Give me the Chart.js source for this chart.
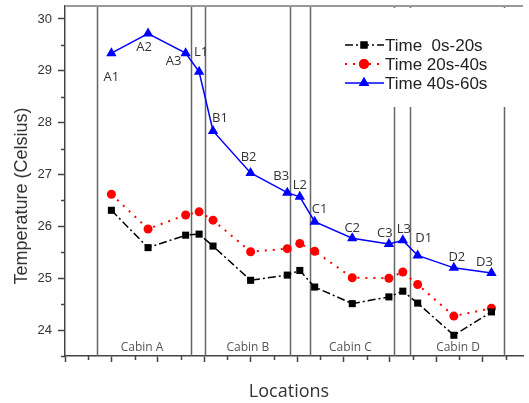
<!DOCTYPE html>
<html>
<head>
<meta charset="utf-8">
<script src="https://cdn.jsdelivr.net/npm/chart.js@4"></script>
<style>
  html, body { margin: 0; padding: 0; background: #fff; }
  #wrap { width: 529px; height: 403px; position: relative; }
</style>
</head>
<body>
<div id="wrap"><canvas id="myChart"></canvas></div>
<script>
// data
const locations = ["A1", "A2", "A3", "L1", "B1", "B2", "B3", "L2", "C1", "C2", "C3", "L3", "D1", "D2", "D3"];
const xPositions = [1.0, 1.79, 2.6, 2.89, 3.19, 4.0, 4.79, 5.06, 5.38, 6.19, 6.98, 7.28, 7.6, 8.38, 9.19];
const time0to20 = [26.31, 25.59, 25.83, 25.85, 25.62, 24.96, 25.06, 25.15, 24.83, 24.51, 24.64, 24.75, 24.52, 23.90, 24.35];
const time20to40 = [26.62, 25.95, 26.22, 26.28, 26.12, 25.51, 25.57, 25.67, 25.52, 25.01, 25.00, 25.12, 24.88, 24.27, 24.42];
const time40to60 = [29.34, 29.72, 29.34, 28.98, 27.84, 27.03, 26.65, 26.57, 26.09, 25.77, 25.66, 25.73, 25.44, 25.20, 25.10];
const seriesNames = ["Time  0s-20s", "Time 20s-40s", "Time 40s-60s"];
const dividers = [0.68, 2.72, 3.02, 4.85, 5.28, 7.1, 7.43, 9.47];
const cabins = ["Cabin A", "Cabin B", "Cabin C", "Cabin D"];
const cabinCenters = [1.66, 3.94, 6.15, 8.47];
const yTicks = [24, 25, 26, 27, 28, 29, 30];
const xTicks = [0, 1, 2, 3, 4, 5, 6, 7, 8, 9];

// label offsets (px) for the blue point names
const labelOffsets = [[0, 24], [-4, 14], [-12, 8], [2, -20], [7, -13], [-2, -16], [-6, -16], [0, -12],
  [5, -12], [0, -10], [-4, -11], [1, -11], [6, -17], [3, -11], [-7, -11]];

const COLOR_BLACK = "#000000";
const COLOR_RED = "#ff0000";
const COLOR_BLUE = "#0000ff";
const AXIS_COLOR = "#444444";

function toPoints(values) {
  return values.map((v, i) => ({ x: xPositions[i], y: v }));
}

const decorPlugin = {
  id: 'decor',
  beforeDatasetsDraw(chart) {
    const ctx = chart.ctx;
    const area = chart.chartArea;
    const xs = chart.scales.x;
    ctx.save();
    // vertical cabin dividers
    ctx.strokeStyle = "#666666";
    ctx.lineWidth = 1.5;
    dividers.forEach((d) => {
      const px = Math.round(xs.getPixelForValue(d)) + 0.5;
      ctx.beginPath();
      ctx.moveTo(px, area.top);
      ctx.lineTo(px, area.bottom);
      ctx.stroke();
    });
    // cabin names
    ctx.fillStyle = "#555555";
    ctx.font = "12px 'Open Sans'";
    ctx.textAlign = "center";
    ctx.textBaseline = "middle";
    cabins.forEach((c, i) => {
      ctx.fillText(c, xs.getPixelForValue(cabinCenters[i]), area.bottom - 8);
    });
    ctx.restore();
  },
  afterDatasetsDraw(chart) {
    const ctx = chart.ctx;
    const area = chart.chartArea;
    const xs = chart.scales.x;
    const ys = chart.scales.y;
    ctx.save();

    // point names for the top series
    ctx.fillStyle = "#333333";
    ctx.font = "13px 'Open Sans'";
    ctx.textAlign = "center";
    ctx.textBaseline = "middle";
    locations.forEach((name, i) => {
      const px = xs.getPixelForValue(xPositions[i]) + labelOffsets[i][0];
      const py = ys.getPixelForValue(time40to60[i]) + labelOffsets[i][1];
      ctx.fillText(name, px, py);
    });

    // legend box (white, hides the dividers behind it)
    ctx.fillStyle = "#ffffff";
    ctx.fillRect(330, area.top + 2, chart.width - 330, 99);
    const rows = [45, 64, 83];
    const styles = [
      { color: COLOR_BLACK, dash: [8, 3, 2, 3], width: 1.5, marker: 'rect' },
      { color: COLOR_RED, dash: [2, 6], width: 2, marker: 'circle' },
      { color: COLOR_BLUE, dash: [], width: 1.5, marker: 'triangle' },
    ];
    styles.forEach((s, i) => {
      const y = rows[i];
      ctx.strokeStyle = s.color;
      ctx.lineWidth = s.width;
      ctx.setLineDash(s.dash);
      ctx.beginPath();
      ctx.moveTo(345, y);
      ctx.lineTo(384, y);
      ctx.stroke();
      ctx.setLineDash([]);
      ctx.fillStyle = s.color;
      Chart.helpers.drawPoint(ctx, { pointStyle: s.marker, radius: s.marker === 'triangle' ? 6 : 5, rotation: 0, borderWidth: 0 }, 364, y);
      ctx.fill();
      ctx.fillStyle = "#222222";
      ctx.font = "17px 'Liberation Sans'";
      ctx.textAlign = "left";
      ctx.textBaseline = "middle";
      ctx.fillText(seriesNames[i], 385, y + 1);
    });

    // top frame line
    ctx.strokeStyle = "#999999";
    ctx.lineWidth = 2;
    ctx.beginPath();
    ctx.moveTo(area.left, area.top);
    ctx.lineTo(area.right, area.top);
    ctx.stroke();

    // minor ticks
    ctx.strokeStyle = AXIS_COLOR;
    ctx.lineWidth = 1.5;
    for (let v = 23.5; v <= 30.01; v += 1) {
      const py = Math.round(ys.getPixelForValue(v)) + 0.5;
      ctx.beginPath();
      ctx.moveTo(area.left - 4, py);
      ctx.lineTo(area.left, py);
      ctx.stroke();
    }
    for (let v = 0.5; v <= 9.6; v += 1) {
      const px = Math.round(xs.getPixelForValue(v)) + 0.5;
      ctx.beginPath();
      ctx.moveTo(px, area.bottom);
      ctx.lineTo(px, area.bottom + 4);
      ctx.stroke();
    }

    // axis titles
    ctx.fillStyle = "#333333";
    ctx.font = "18px 'Liberation Sans'";
    ctx.textAlign = "center";
    ctx.textBaseline = "middle";
    ctx.save();
    ctx.translate(22, 196);
    ctx.rotate(-Math.PI / 2);
    ctx.fillText("Temperature (Celsius)", 0, 0);
    ctx.restore();
    ctx.font = "18px 'Open Sans'";
    ctx.fillText("Locations", 289, 392);

    ctx.restore();
  }
};

const ctx = document.getElementById("myChart").getContext("2d");
const chart = new Chart(ctx, {
  type: 'scatter',
  data: {
    datasets: [
      {
        label: seriesNames[0],
        data: toPoints(time0to20),
        showLine: true,
        borderColor: COLOR_BLACK,
        backgroundColor: COLOR_BLACK,
        borderWidth: 1.5,
        borderDash: [8, 3, 2, 3],
        pointStyle: 'rect',
        pointRadius: 5,
        pointBorderWidth: 0,
      },
      {
        label: seriesNames[1],
        data: toPoints(time20to40),
        showLine: true,
        borderColor: COLOR_RED,
        backgroundColor: COLOR_RED,
        borderWidth: 2,
        borderDash: [2, 6],
        pointStyle: 'circle',
        pointRadius: 4.5,
        pointBorderWidth: 0,
      },
      {
        label: seriesNames[2],
        data: toPoints(time40to60),
        showLine: true,
        borderColor: COLOR_BLUE,
        backgroundColor: COLOR_BLUE,
        borderWidth: 1.5,
        pointStyle: 'triangle',
        pointRadius: 6,
        pointBorderWidth: 0,
      },
    ]
  },
  options: {
    responsive: true,
    maintainAspectRatio: false,
    animation: false,
    layout: { padding: { top: 6, left: 0, right: 0, bottom: 0 } },
    scales: {
      x: {
        type: 'linear',
        min: 0,
        max: 9.87,
        afterBuildTicks: (scale) => { scale.ticks = xTicks.map(v => ({ value: v })); },
        afterFit: (scale) => {
          scale.height = 47;
          scale.paddingLeft = 0;
          scale.paddingRight = 0;
        },
        grid: { drawOnChartArea: false, tickLength: 6, tickColor: AXIS_COLOR, tickWidth: 1.5 },
        border: { color: AXIS_COLOR, width: 1.5 },
        ticks: { display: false },
      },
      y: {
        min: 23.5,
        max: 30.25,
        afterBuildTicks: (scale) => { scale.ticks = yTicks.map(v => ({ value: v })); },
        afterFit: (scale) => {
          scale.width = 65;
          scale.paddingTop = 0;
          scale.paddingBottom = 0;
        },
        grid: { drawOnChartArea: false, tickLength: 7, tickColor: AXIS_COLOR, tickWidth: 1.5 },
        border: { color: AXIS_COLOR, width: 1.5 },
        ticks: {
          color: "#333333",
          font: { family: "'Liberation Sans'", size: 13 },
          padding: 6,
        },
      },
    },
    plugins: {
      legend: { display: false },
      tooltip: { enabled: false },
    },
  },
  plugins: [decorPlugin],
});
</script>
</body>
</html>
